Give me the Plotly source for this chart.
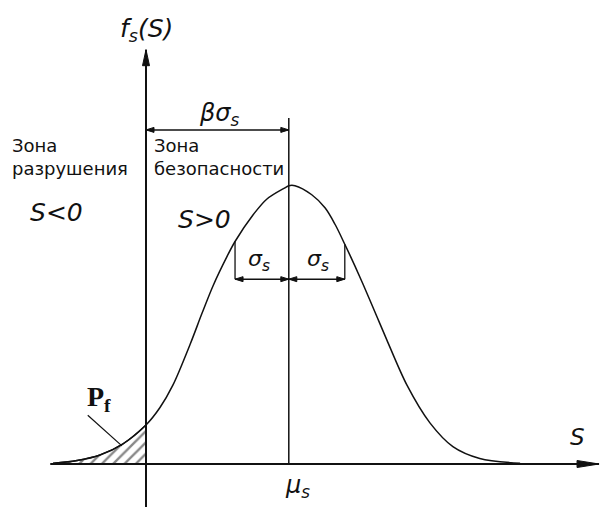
import plotly.graph_objects as go

# Probability density of the safety margin S (s measured in units of sigma_s)
s_vals = [-1.66, -1.23, -0.82, -0.41, 0.00, 0.25, 0.48, 0.79, 1.00, 1.20, 1.45, 1.59,
          1.91, 2.16, 2.48, 2.55, 2.66, 2.96, 3.20, 3.38, 3.55, 3.73, 3.88, 4.13,
          4.30, 4.66, 5.07, 5.48, 5.96, 6.68]
f_vals = [0.001, 0.005, 0.013, 0.029, 0.056, 0.081, 0.113, 0.172, 0.216, 0.256, 0.298, 0.319,
          0.357, 0.380, 0.396, 0.399, 0.399, 0.386, 0.367, 0.343, 0.315, 0.284, 0.257, 0.210,
          0.178, 0.113, 0.059, 0.025, 0.008, 0.001]

mu_s = 2.55       # mean of S
s_lo = 1.59       # mu_s - sigma_s
s_hi = 3.55       # mu_s + sigma_s

# failure tail (s <= 0)
tail_s = [s for s in s_vals if s <= 0]
tail_f = [f for s, f in zip(s_vals, f_vals) if s <= 0]

f_lo = f_vals[s_vals.index(s_lo)]
f_hi = f_vals[s_vals.index(s_hi)]

BLACK = "#111111"
FONT = "DejaVu Sans"

# pixel-to-data scale of the drawing area
PX_S = 56.0          # pixels per unit of s
PX_F = 279 / 0.4     # pixels per unit of f

fig = go.Figure()

# hatched failure probability area
fig.add_trace(go.Scatter(
    x=tail_s, y=tail_f, mode="lines", line=dict(color=BLACK, width=1.3, shape="spline"),
    fill="tozeroy", fillcolor="rgba(255,255,255,0)",
    fillpattern=dict(shape="/", size=8, solidity=0.3, fgcolor=BLACK, bgcolor="white"),
    hoverinfo="skip", showlegend=False))

# density curve
fig.add_trace(go.Scatter(
    x=s_vals, y=f_vals, mode="lines",
    line=dict(color=BLACK, width=1.5, shape="spline", smoothing=0.9),
    hoverinfo="skip", showlegend=False))

shapes = []


def seg(x0, y0, x1, y1, width=1.5):
    shapes.append(dict(type="line", x0=x0, y0=y0, x1=x1, y1=y1,
                       line=dict(color=BLACK, width=width)))


def head(x, y, dx, dy, length=8, half=2.5):
    """Filled arrowhead with its tip at (x, y) pointing along pixel direction (dx, dy)."""
    n = (dx * dx + dy * dy) ** 0.5
    ux, uy = dx / n, dy / n
    bx, by = -ux * length, -uy * length
    px, py = -uy * half, ux * half
    p1 = (x + (bx + px) / PX_S, y + (by + py) / PX_F)
    p2 = (x + (bx - px) / PX_S, y + (by - py) / PX_F)
    shapes.append(dict(type="path",
                       path=f"M {x},{y} L {p1[0]},{p1[1]} L {p2[0]},{p2[1]} Z",
                       fillcolor=BLACK, line=dict(color=BLACK, width=1)))


# coordinate axes
seg(-1.71, 0, 8.09, 0, width=2)
head(8.09, 0, 1, 0, length=22, half=3.5)
seg(0, -0.07, 0, 0.594, width=2)
head(0, 0.594, 0, 1, length=16, half=3.5)

# mean line
seg(mu_s, 0, mu_s, 0.496)

# beta*sigma dimension
seg(0, 0.479, mu_s, 0.479)
head(0, 0.479, -1, 0)
head(mu_s, 0.479, 1, 0)

# sigma extension lines and dimensions
seg(s_lo, f_lo, s_lo, 0.265, width=1.3)
seg(s_hi, f_hi, s_hi, 0.265, width=1.3)
seg(s_lo, 0.265, s_hi, 0.265)
head(s_lo, 0.265, -1, 0)
head(mu_s, 0.265, 1, 0)
head(mu_s, 0.265, -1, 0)
head(s_hi, 0.265, 1, 0)

# leader line for Pf
seg(-1.04, 0.070, -0.43, 0.026, width=1.2)

ann = []


def label(x, y, text, size, xanchor="center", italic=False, family=FONT):
    ann.append(dict(x=x, y=y, xref="x", yref="y", text=text, showarrow=False,
                    xanchor=xanchor, yanchor="middle",
                    font=dict(family=family, size=size, color=BLACK,
                              style="italic" if italic else "normal")))


label(0.0, 0.622, "<i>f</i><sub>s</sub>(<i>S</i>)", 25, italic=True)
label(1.32, 0.501, "<i>βσ</i><sub>s</sub>", 24, italic=True)
label(-2.43, 0.457, "Зона", 18, xanchor="left")
label(-2.43, 0.424, "разрушения", 18, xanchor="left")
label(0.11, 0.457, "Зона", 18, xanchor="left")
label(0.11, 0.424, "безопасности", 18, xanchor="left")
label(-1.59, 0.361, "<i>S</i><0", 25, italic=True)
label(1.05, 0.350, "<i>S</i>>0", 25, italic=True)
label(2.02, 0.292, "<i>σ</i><sub>s</sub>", 22, italic=True)
label(3.07, 0.292, "<i>σ</i><sub>s</sub>", 22, italic=True)
label(-0.84, 0.094, "<b>P</b><sub><b>f</b></sub>", 28, family="Liberation Serif")
label(7.71, 0.039, "<i>S</i>", 23, italic=True)
label(2.71, -0.032, "<i>μ</i><sub>s</sub>", 24, italic=True)

fig.update_layout(
    width=603, height=507, margin=dict(l=0, r=0, t=0, b=0),
    paper_bgcolor="white", plot_bgcolor="white",
    xaxis=dict(visible=False, range=[-146 / PX_S, 457 / PX_S], fixedrange=True),
    yaxis=dict(visible=False, range=[-43 / PX_F, 464 / PX_F], fixedrange=True),
    shapes=shapes, annotations=ann, showlegend=False,
)

fig.write_html("out.html")
